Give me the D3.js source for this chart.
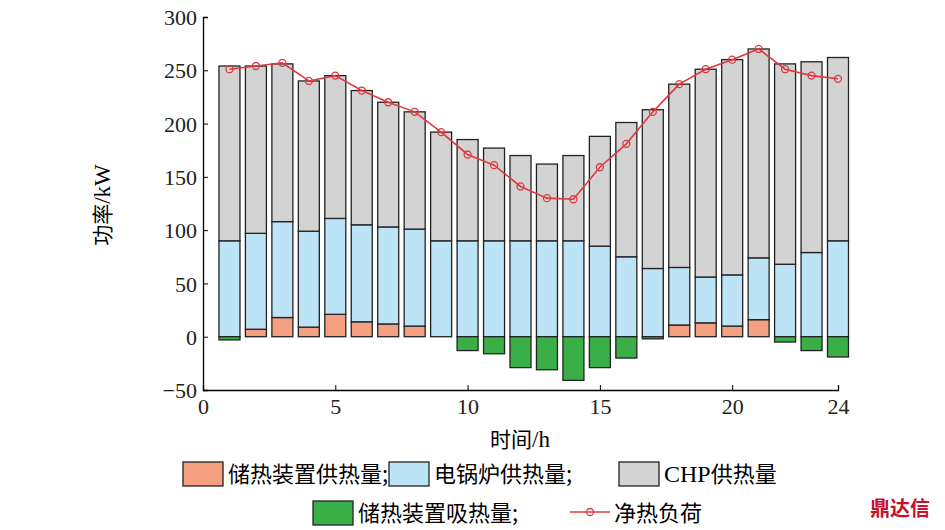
<!DOCTYPE html>
<html><head><meta charset="utf-8">
<script src="https://cdn.jsdelivr.net/npm/d3@7"></script>
<style>body{margin:0;background:#fff}</style>
</head><body><svg id="c" width="945" height="530"></svg>
<script>
var hours = d3.range(1, 25);
var storeOut = [0,7,18,9,21,14,12,10,0,0,0,0,0,0,0,0,0,11,13,10,16,0,0,0];
var boiler = [90,90,90,90,90,91,91,91,90,90,90,90,90,90,85,75,64,54,43,48,58,68,79,90];
var chp = [164,157,148,141,134,126,117,110,102,95,87,80,72,80,103,126,149,172,195,202,196,188,179,172];
var storeIn = [-3,0,0,0,0,0,0,0,0,-13,-16,-29,-31,-41,-29,-20,-2,0,0,0,0,-5,-13,-19];
var netLoad = [251,254,257,240,245,231,220,211,192,171,161,141,130,129,159,181,211,237,251,260,270,251,245,242];
var yTicks = [-50,0,50,100,150,200,250,300];
var xTicks = [0,5,10,15,20,24];

var svg = d3.select('#c');
var serif = '"Liberation Serif","Times New Roman",serif';
var cjk = '"Noto Sans CJK SC",sans-serif';
var x = d3.scaleLinear().domain([0, 24]).range([203, 838]);
var y = d3.scaleLinear().domain([-50, 300]).range([390, 17]);
var bw = 21;

// bars
var g = svg.append('g').attr('stroke', '#222').attr('stroke-width', 1.3);
hours.forEach(function(h, i) {
  var segs = [
    [0, storeOut[i], '#f4a081'],
    [storeOut[i], storeOut[i] + boiler[i], '#bde3f7'],
    [storeOut[i] + boiler[i], storeOut[i] + boiler[i] + chp[i], '#d3d3d3']
  ];
  if (storeIn[i] < 0) segs.push([storeIn[i], 0, '#3aaf48']);
  segs.forEach(function(s) {
    if (s[1] === s[0]) return;
    g.append('rect').attr('x', x(h) - bw / 2).attr('width', bw)
      .attr('y', y(s[1])).attr('height', y(s[0]) - y(s[1])).attr('fill', s[2]);
  });
});

// net load line
var line = d3.line().x(function(d, i) { return x(hours[i]); }).y(function(d) { return y(d); });
svg.append('path').datum(netLoad).attr('d', line).attr('fill', 'none')
  .attr('stroke', '#e0393e').attr('stroke-width', 1.6);
svg.selectAll('circle.n').data(netLoad).enter().append('circle')
  .attr('cx', function(d, i) { return x(hours[i]); }).attr('cy', y)
  .attr('r', 3.5).attr('fill', 'none').attr('stroke', '#e0393e').attr('stroke-width', 1.3);

// axes
var ax = svg.append('g').attr('transform', 'translate(0,390)')
  .call(d3.axisBottom(x).tickValues(xTicks).tickSize(-5).tickPadding(8));
var ay = svg.append('g').attr('transform', 'translate(203,0)')
  .call(d3.axisLeft(y).tickValues(yTicks).tickSize(-5).tickPadding(6));
[ax, ay].forEach(function(a) {
  a.select('.domain').attr('stroke-width', 1.3);
  a.selectAll('text').attr('font-family', serif).attr('font-size', 22).attr('fill', '#222');
});
ay.selectAll('text').attr('dy', '0.35em');

var xl = svg.append('text').attr('x', 520).attr('y', 447).attr('text-anchor', 'middle')
  .attr('font-family', cjk).attr('font-size', 21);
xl.append('tspan').text('时间');
xl.append('tspan').attr('font-family', serif).attr('font-size', 23).text('/h');
var yl = svg.append('text').attr('transform', 'translate(110,205) rotate(-90)').attr('text-anchor', 'middle')
  .attr('font-family', cjk).attr('font-size', 21);
yl.append('tspan').text('功率');
yl.append('tspan').attr('font-family', serif).attr('font-size', 23).text('/kW');

// legend
function box(xx, yy, c) {
  svg.append('rect').attr('x', xx).attr('y', yy).attr('width', 40).attr('height', 24)
    .attr('fill', c).attr('stroke', '#222').attr('stroke-width', 1.3);
}
function lbl(xx, yy, t) {
  return svg.append('text').attr('x', xx).attr('y', yy).attr('font-family', cjk).attr('font-size', 22).text(t);
}
box(183, 462, '#f4a081'); lbl(228, 482, '储热装置供热量;');
box(389, 462, '#bde3f7'); lbl(434, 482, '电锅炉供热量;');
box(619, 462, '#d3d3d3');
var chpL = lbl(664, 482, '');
chpL.append('tspan').attr('font-family', serif).attr('font-size', 24).text('CHP');
chpL.append('tspan').text('供热量');
box(313, 501, '#3aaf48'); lbl(358, 521, '储热装置吸热量;');
svg.append('line').attr('x1', 570).attr('x2', 610).attr('y1', 512).attr('y2', 512)
  .attr('stroke', '#e0393e').attr('stroke-width', 1.6);
svg.append('circle').attr('cx', 590).attr('cy', 512).attr('r', 3.5).attr('fill', 'none')
  .attr('stroke', '#e0393e').attr('stroke-width', 1.3);
lbl(614, 521, '净热负荷');
svg.append('text').attr('x', 870).attr('y', 516).attr('font-family', cjk).attr('font-size', 20)
  .attr('font-weight', 'bold').attr('fill', '#c8102e').text('鼎达信');
</script></body></html>
